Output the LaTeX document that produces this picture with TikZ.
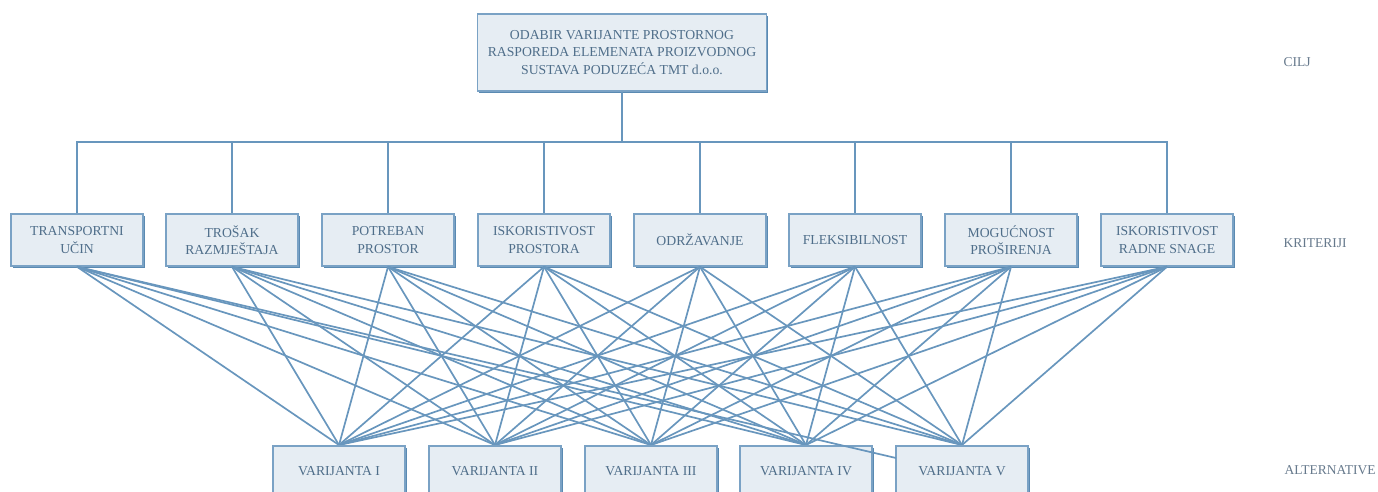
\documentclass[tikz,border=0pt]{standalone}
\usepackage{fontspec}
\setmainfont{Liberation Serif}
\usetikzlibrary{shadows}
\definecolor{boxfill}{HTML}{E6EDF3}
\definecolor{boxline}{HTML}{7AA2C5}
\definecolor{boxshadow}{HTML}{5A8AB2}
\definecolor{txt}{HTML}{4F6E8A}
\definecolor{lbl}{HTML}{66798C}
\definecolor{conn}{HTML}{6896BD}
\tikzset{
  hbox/.style={draw=boxline, fill=boxfill, line width=1.5pt, inner sep=0pt, align=center,
    text=txt, font=\fontsize{13.7}{17.5}\selectfont,
    drop shadow={shadow xshift=1.8pt, shadow yshift=-1.8pt, fill=boxshadow, opacity=1}},
  topbox/.style={hbox, minimum width=289pt, minimum height=77pt},
  critbox/.style={hbox, minimum width=132pt, minimum height=52pt},
  altbox/.style={hbox, minimum width=132pt, minimum height=52pt},
  alttext/.style={text=txt, font=\fontsize{13.7}{17.5}\selectfont, inner sep=0pt},
  levellabel/.style={text=lbl, font=\fontsize{13.5}{16}\selectfont, inner sep=0pt},
  conline/.style={draw=conn, line width=1.7pt},
  bus/.style={draw=conn, line width=1.7pt}
}
\begin{document}
\begin{tikzpicture}[x=1pt,y=-1pt]
\useasboundingbox (0,0) rectangle (1378,491);
\clip (0,0) rectangle (1378,491);
% goal
\node[topbox] (goal) at (622,52.5) {ODABIR VARIJANTE PROSTORNOG\\RASPOREDA ELEMENATA PROIZVODNOG\\SUSTAVA PODUZEĆA TMT d.o.o.};
% criteria
\node[critbox] (c1) at (77,240) {TRANSPORTNI\\UČIN};
\node[critbox] (c2) at (232,240) {TROŠAK\\RAZMJEŠTAJA};
\node[critbox] (c3) at (388,240) {POTREBAN\\PROSTOR};
\node[critbox] (c4) at (544,240) {ISKORISTIVOST\\PROSTORA};
\node[critbox] (c5) at (700,240) {ODRŽAVANJE};
\node[critbox] (c6) at (855,240) {FLEKSIBILNOST};
\node[critbox] (c7) at (1011,240) {MOGUĆNOST\\PROŠIRENJA};
\node[critbox] (c8) at (1167,240) {ISKORISTIVOST\\RADNE SNAGE};
% alternatives (top centre points for connectors)
\coordinate (a1) at (339,445);
\coordinate (a2) at (495,445);
\coordinate (a3) at (651,445);
\coordinate (a4) at (806,445);
\coordinate (a5) at (962,445);
\coordinate (a5left) at (896,458);
% level labels
\node[levellabel] (lcilj) at (1297,62) {CILJ};
\node[levellabel] (lkrit) at (1315,243) {KRITERIJI};
\node[levellabel] (lalt) at (1330,470) {ALTERNATIVE};
% bus
\coordinate (busmid) at (622,142);
\draw[bus] (goal.south) -- (busmid);
\foreach \c in {c1,c2,c3,c4,c5,c6,c7,c8}{
  \draw[bus] (busmid) -| (\c.north);
}
% connectors criteria -> alternatives
\foreach \a in {a1,a2,a3,a4,a5}{
  \foreach \c in {c2,c3,c4,c5,c6,c7,c8}{
    \draw[conline] (\c.south) -- (\a);
  }
}
\foreach \a in {a1,a2,a3,a4}{
  \draw[conline] (c1.south) -- (\a);
}
% alternative boxes
\node[altbox, anchor=north] (v1) at (a1) {};
\node[altbox, anchor=north] (v2) at (a2) {};
\node[altbox, anchor=north] (v3) at (a3) {};
\node[altbox, anchor=north] (v4) at (a4) {};
\node[altbox, anchor=north] (v5) at (a5) {};
\node[alttext] (t1) at (339,471) {VARIJANTA I};
\node[alttext] (t2) at (495,471) {VARIJANTA II};
\node[alttext] (t3) at (651,471) {VARIJANTA III};
\node[alttext] (t4) at (806,471) {VARIJANTA IV};
\node[alttext] (t5) at (962,471) {VARIJANTA V};
\draw[conline] (c1.south) -- (a5left);
\end{tikzpicture}
\end{document}
